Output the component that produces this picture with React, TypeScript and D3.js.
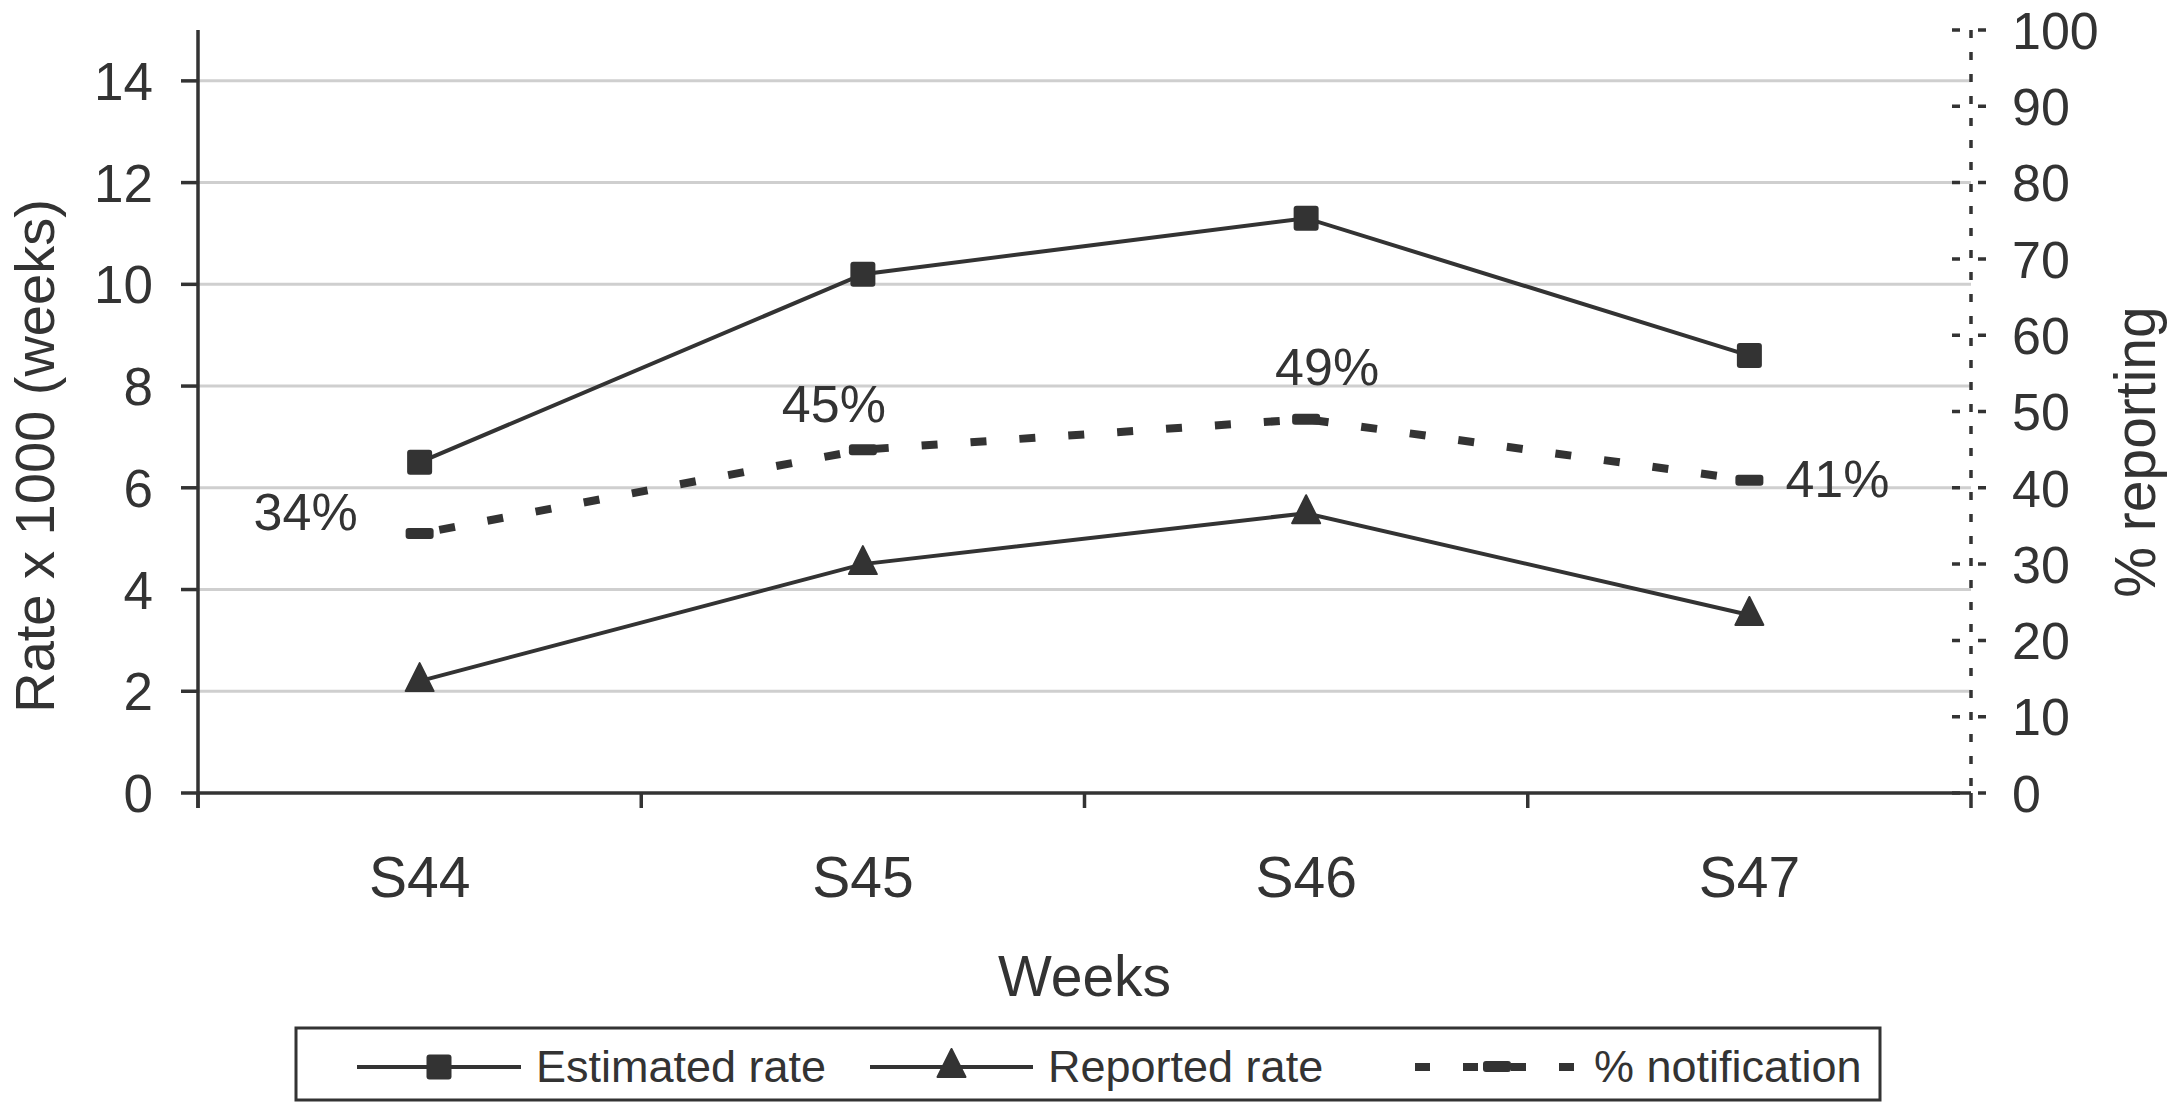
import { useEffect, useRef } from "react";
import * as d3 from "d3";

// Chart data
const weeks = ["S44", "S45", "S46", "S47"];
const estimatedRate = [6.5, 10.2, 11.3, 8.6];
const reportedRate = [2.2, 4.5, 5.5, 3.5];
const notification = [34, 45, 49, 41];
const leftTicks = [0, 2, 4, 6, 8, 10, 12, 14];
const rightTicks = [0, 10, 20, 30, 40, 50, 60, 70, 80, 90, 100];

const W = 2167;
const H = 1103;
const INK = "#333333";
const FONT = "'Liberation Sans', Arial, Helvetica, sans-serif";

export default function App() {
  const ref = useRef<SVGSVGElement>(null);

  useEffect(() => {
    if (!ref.current) return;
    const svg = d3.select(ref.current);
    svg.selectAll("*").remove();

    const left = 198;
    const right = 1971;
    const top = 30;
    const bottom = 793;

    const x = d3.scaleBand<string>().domain(weeks).range([left, right]);
    const cx = (w: string) => (x(w) ?? 0) + x.bandwidth() / 2;
    const yL = d3.scaleLinear().domain([0, 15]).range([bottom, top]);
    const yR = d3.scaleLinear().domain([0, 100]).range([bottom, top]);

    // gridlines
    svg.append("g")
      .selectAll("line")
      .data(leftTicks.filter(t => t > 0))
      .enter().append("line")
      .attr("x1", left).attr("x2", right)
      .attr("y1", d => yL(d)).attr("y2", d => yL(d))
      .attr("stroke", "#cfcfcf").attr("stroke-width", 3);

    // left axis
    const gl = svg.append("g");
    gl.append("line")
      .attr("x1", left).attr("x2", left).attr("y1", top).attr("y2", bottom + 15)
      .attr("stroke", INK).attr("stroke-width", 3.5);
    gl.selectAll(".tick")
      .data(leftTicks)
      .enter().append("line")
      .attr("x1", left - 17).attr("x2", left)
      .attr("y1", d => yL(d)).attr("y2", d => yL(d))
      .attr("stroke", INK).attr("stroke-width", 3.5);
    gl.selectAll("text")
      .data(leftTicks)
      .enter().append("text")
      .attr("x", 153).attr("y", d => yL(d))
      .attr("dy", "0.36em")
      .attr("text-anchor", "end")
      .attr("font-size", 53)
      .attr("fill", INK)
      .text(d => d);

    // right axis (dotted)
    const gr = svg.append("g");
    gr.append("line")
      .attr("x1", right).attr("x2", right).attr("y1", top).attr("y2", bottom)
      .attr("stroke", INK).attr("stroke-width", 3.5)
      .attr("stroke-dasharray", "8 14");
    gr.selectAll(".tick")
      .data(rightTicks)
      .enter().append("line")
      .attr("x1", right - 19).attr("x2", right + 15)
      .attr("y1", d => yR(d)).attr("y2", d => yR(d))
      .attr("stroke", INK).attr("stroke-width", 3.5)
      .attr("stroke-dasharray", "8 18 8");
    gr.selectAll("text")
      .data(rightTicks)
      .enter().append("text")
      .attr("x", 2012).attr("y", d => yR(d))
      .attr("dy", "0.36em")
      .attr("font-size", 52)
      .attr("fill", INK)
      .text(d => d);

    // x axis
    const gx = svg.append("g");
    gx.append("line")
      .attr("x1", left).attr("x2", right).attr("y1", bottom).attr("y2", bottom)
      .attr("stroke", INK).attr("stroke-width", 3.5);
    gx.selectAll(".tick")
      .data([...weeks.map(w => x(w) ?? 0), right])
      .enter().append("line")
      .attr("x1", d => d).attr("x2", d => d)
      .attr("y1", bottom).attr("y2", bottom + 15)
      .attr("stroke", INK).attr("stroke-width", 3.5);
    gx.selectAll("text")
      .data(weeks)
      .enter().append("text")
      .attr("x", d => cx(d)).attr("y", 897)
      .attr("text-anchor", "middle")
      .attr("font-size", 57)
      .attr("fill", INK)
      .text(d => d);

    // axis titles
    svg.append("text")
      .attr("x", (left + right) / 2).attr("y", 996)
      .attr("text-anchor", "middle").attr("font-size", 57).attr("fill", INK)
      .text("Weeks");
    svg.append("text")
      .attr("transform", "translate(54,456) rotate(-90)")
      .attr("text-anchor", "middle").attr("font-size", 56).attr("fill", INK)
      .text("Rate x 1000 (weeks)");
    svg.append("text")
      .attr("transform", "translate(2155,452) rotate(-90)")
      .attr("text-anchor", "middle").attr("font-size", 57).attr("fill", INK)
      .text("% reporting");

    const lineL = d3.line<number>().x((_, i) => cx(weeks[i])).y(d => yL(d));
    const lineR = d3.line<number>().x((_, i) => cx(weeks[i])).y(d => yR(d));

    // % notification (dashed, right axis)
    svg.append("path")
      .datum(notification)
      .attr("d", lineR)
      .attr("fill", "none").attr("stroke", INK)
      .attr("stroke-width", 8).attr("stroke-dasharray", "16 33")
      .attr("stroke-dashoffset", -20);
    svg.selectAll(".nmark")
      .data(notification)
      .enter().append("rect")
      .attr("x", (_, i) => cx(weeks[i]) - 14).attr("y", d => yR(d) - 5.5)
      .attr("width", 28).attr("height", 11).attr("rx", 3)
      .attr("fill", INK);

    // labels for % notification
    const labelOffsets = [
      { dx: -62, dy: -4, anchor: "end" },
      { dx: -29, dy: -28, anchor: "middle" },
      { dx: 21, dy: -34, anchor: "middle" },
      { dx: 36, dy: 17, anchor: "start" },
    ];
    svg.selectAll(".nlabel")
      .data(notification)
      .enter().append("text")
      .attr("x", (_, i) => cx(weeks[i]) + labelOffsets[i].dx)
      .attr("y", (d, i) => yR(d) + labelOffsets[i].dy)
      .attr("text-anchor", (_, i) => labelOffsets[i].anchor)
      .attr("font-size", 52).attr("fill", INK)
      .text(d => `${d}%`);

    // estimated rate
    svg.append("path")
      .datum(estimatedRate)
      .attr("d", lineL)
      .attr("fill", "none").attr("stroke", INK).attr("stroke-width", 4);
    svg.selectAll(".emark")
      .data(estimatedRate)
      .enter().append("rect")
      .attr("x", (_, i) => cx(weeks[i]) - 12.5).attr("y", d => yL(d) - 12.5)
      .attr("width", 25).attr("height", 25).attr("rx", 3)
      .attr("fill", INK);

    // reported rate
    const tri = "M0,-18L14,10L-14,10Z";
    svg.append("path")
      .datum(reportedRate)
      .attr("d", lineL)
      .attr("fill", "none").attr("stroke", INK).attr("stroke-width", 4);
    svg.selectAll(".rmark")
      .data(reportedRate)
      .enter().append("path")
      .attr("d", tri)
      .attr("transform", (d, i) => `translate(${cx(weeks[i])},${yL(d)})`)
      .attr("fill", INK).attr("stroke", INK).attr("stroke-width", 2)
      .attr("stroke-linejoin", "round");

    // legend
    const lg = svg.append("g");
    lg.append("rect")
      .attr("x", 296).attr("y", 1028).attr("width", 1584).attr("height", 72)
      .attr("fill", "white").attr("stroke", INK).attr("stroke-width", 3);
    const ly = 1067;
    const items = [
      { x1: 357, x2: 521, label: "Estimated rate", kind: "square" },
      { x1: 870, x2: 1033, label: "Reported rate", kind: "triangle" },
      { x1: 1415, x2: 1579, label: "% notification", kind: "dash" },
    ];
    items.forEach(it => {
      const mid = (it.x1 + it.x2) / 2;
      const dashed = it.kind === "dash";
      lg.append("line")
        .attr("x1", it.x1).attr("x2", it.x2).attr("y1", ly).attr("y2", ly)
        .attr("stroke", INK).attr("stroke-width", dashed ? 8 : 4)
        .attr("stroke-dasharray", dashed ? "15 33" : null);
      if (it.kind === "square") {
        lg.append("rect").attr("x", mid - 12.5).attr("y", ly - 12.5)
          .attr("width", 25).attr("height", 25).attr("rx", 3).attr("fill", INK);
      } else if (it.kind === "triangle") {
        lg.append("path").attr("d", tri)
          .attr("transform", `translate(${mid},${ly})`)
          .attr("fill", INK).attr("stroke", INK).attr("stroke-width", 2)
          .attr("stroke-linejoin", "round");
      } else {
        lg.append("rect").attr("x", mid - 14).attr("y", ly - 6)
          .attr("width", 28).attr("height", 11).attr("rx", 3).attr("fill", INK);
      }
      lg.append("text")
        .attr("x", it.x2 + 15).attr("y", ly + 15)
        .attr("font-size", 45).attr("fill", INK)
        .text(it.label);
    });
  }, []);

  return (
    <svg
      ref={ref}
      width={W}
      height={H}
      style={{ position: "absolute", left: 0, top: 0, background: "white", fontFamily: FONT }}
    />
  );
}
